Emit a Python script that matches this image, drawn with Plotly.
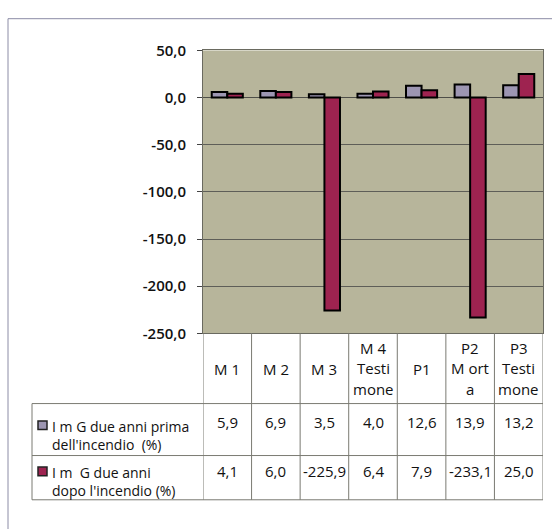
import plotly.graph_objects as go

# --- data ---------------------------------------------------------------
categories = ["M1", "M2", "M3", "M4 Testimone", "P1", "P2 Morta", "P3 Testimone"]
header_lines = [["M 1"], ["M 2"], ["M 3"], ["M 4", "Testi", "mone"],
                ["P1"], ["P2", "M ort", "a"], ["P3", "Testi", "mone"]]
series_names = ["I m G due anni prima<br>dell'incendio  (%)",
                "I m  G due anni<br>dopo l'incendio (%)"]
img_before = [5.9, 6.9, 3.5, 4.0, 12.6, 13.9, 13.2]
img_after = [4.1, 6.0, -225.9, 6.4, 7.9, -233.1, 25.0]
y_tickvals = [50, 0, -50, -100, -150, -200, -250]
y_ticktext = ["50,0", "0,0", "-50,0", "-100,0", "-150,0", "-200,0", "-250,0"]

# --- layout constants (pixels) ------------------------------------------
W, H = 552, 529
PLOT_L, PLOT_R, PLOT_T, PLOT_B = 203, 543, 41, 335
HEAD_B, ROW1_B, ROW2_B = 408, 462, 508
LEG_L = 32

def px(x):
    return x / W

def py(y):
    return 1 - y / H

FONT = "Open Sans"
TXT = "#111111"
C1, C2 = "#9d96b2", "#9e2350"

tick_font = dict(family=FONT, size=15, color=TXT, weight=600)
cell_font = dict(family=FONT, size=15, color=TXT)
legend_font = dict(family=FONT, size=14, color=TXT)

fig = go.Figure()
fig.add_trace(go.Bar(x=categories, y=img_before, name="before",
                     marker=dict(color=C1, line=dict(color="#000", width=2))))
fig.add_trace(go.Bar(x=categories, y=img_after, name="after",
                     marker=dict(color=C2, line=dict(color="#000", width=2))))

shapes = []
annotations = []

# outer chart frame
shapes.append(dict(type="rect", xref="paper", yref="paper",
                   x0=px(8), x1=1.02, y0=-0.02, y1=py(8),
                   line=dict(color="#8c8ca6", width=1), layer="below"))

LINE = dict(color="#7a7a72", width=1)
# vertical separators between category columns, down through the table
n = len(categories)
for i in range(n + 1):
    shapes.append(dict(type="line", xref="x", yref="paper",
                       x0=i - 0.5, x1=i - 0.5, y0=py(ROW2_B), y1=py(PLOT_B),
                       line=LINE))
# horizontal rules of the data table
for yy in (HEAD_B, ROW1_B, ROW2_B):
    shapes.append(dict(type="line", xref="paper", yref="paper",
                       x0=px(LEG_L), x1=px(PLOT_R), y0=py(yy), y1=py(yy),
                       line=LINE))
# left edge of the legend column
shapes.append(dict(type="line", xref="paper", yref="paper",
                   x0=px(LEG_L), x1=px(LEG_L), y0=py(ROW2_B), y1=py(HEAD_B),
                   line=LINE))

# category header cells
for i, lines in enumerate(header_lines):
    if len(lines) == 1:
        ys = [372]
    else:
        ys = [350, 371, 393]
    for t, yy in zip(lines, ys):
        annotations.append(dict(x=categories[i], xref="x", y=py(yy), yref="paper",
                                text=t, showarrow=False, xanchor="center",
                                yanchor="middle", font=cell_font))

# value cells
def fmt(v):
    return f"{v:.1f}".replace(".", ",")

for row_y, vals in ((427, img_before), (478, img_after)):
    for i, v in enumerate(vals):
        annotations.append(dict(x=categories[i], xref="x", y=py(row_y), yref="paper",
                                text=fmt(v), showarrow=False, xanchor="center",
                                yanchor="middle", font=cell_font))

# legend keys with series names
for (name, col, top) in ((series_names[0], C1, 426), (series_names[1], C2, 474)):
    shapes.append(dict(type="rect", xref="paper", yref="paper",
                       x0=px(38), x1=px(47), y0=py(top + 9), y1=py(top),
                       fillcolor=col, line=dict(color="#222", width=1.5)))
    annotations.append(dict(x=px(50), xref="paper", y=py(top - 6), yref="paper",
                            text=name, showarrow=False, xanchor="left",
                            yanchor="top", align="left", font=legend_font))

fig.update_layout(
    width=W, height=H,
    margin=dict(l=0, r=0, t=0, b=0),
    paper_bgcolor="white",
    plot_bgcolor="#b7b59b",
    barmode="group", bargap=0.36, bargroupgap=0,
    showlegend=False,
    shapes=shapes,
    annotations=annotations,
    xaxis=dict(domain=[px(PLOT_L), px(PLOT_R)], range=[-0.5, n - 0.5],
               showticklabels=False, ticks="", showgrid=False, zeroline=False,
               showline=True, mirror=True, linecolor="#6a6a60", linewidth=1),
    yaxis=dict(domain=[py(PLOT_B), py(PLOT_T)], range=[-250, 50],
               tickvals=y_tickvals, ticktext=y_ticktext,
               ticks="outside", ticklen=5, tickcolor="#444",
               ticklabelstandoff=8,
               tickfont=tick_font,
               showgrid=True, gridcolor="#5e5e58", gridwidth=1,
               zeroline=True, zerolinecolor="#4e4e48", zerolinewidth=1,
               showline=True, mirror=True, linecolor="#6a6a60", linewidth=1),
)

fig.write_html("out.html")
